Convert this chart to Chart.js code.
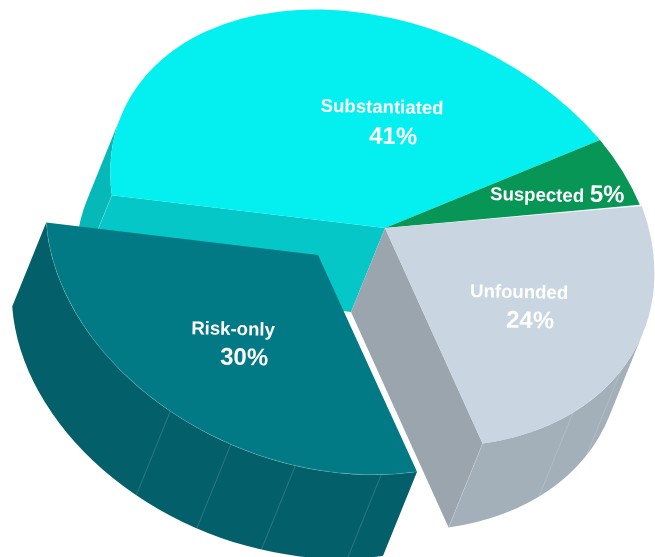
<!DOCTYPE html>
<html>
<head>
<meta charset="utf-8">
<title>Case outcomes</title>
<style>
html,body{margin:0;padding:0;background:#fff}
canvas{display:block}
</style>
</head>
<body>
<canvas id="pie" width="655" height="557"></canvas>
<script src="https://cdn.jsdelivr.net/npm/chart.js@4.4.0/dist/chart.umd.min.js"></script>
<script>
// data
const categories = ['Substantiated', 'Suspected', 'Unfounded', 'Risk-only'];
const shares = [41, 5, 24, 30];

// colours per slice
const topColors = ['#04EFEF', '#079655', '#C9D6E2', '#017A85'];
const rimColors = ['#06B8B8', '#067A45', '#A3B0BA', '#03606A'];
const cutColors = ['#05C7C7', '#067A45', '#9AA5AE', '#03606A'];

// tilt of the pie: where the unit circle lands on screen, in px.
// the original has some perspective so each slice gets its own axes
const center = { x: 385, y: 228 };
const axesU = [{ x: 215, y: -88 }, { x: 215, y: -88 }, { x: 219, y: -88 }, { x: 221, y: -89 }];
const axesV = [{ x: 171, y: 200 }, { x: 163, y: 196 }, { x: 157, y: 200 }, { x: 159, y: 201 }];
const depth = { x: -34, y: 84 };
const explode = { x: -67, y: 27 }; // Risk-only is pulled out
const EXPLODED = 3;

// facet lines on the rim, degrees
const facetLines = { 2: [64.6, 81.4], 3: [112.3, 130.5, 144.4, 158.6] };

// label placement (name x,y then pct x,y)
const labelPos = [
  [382, 113, 393, 144],
  [537, 201, 607, 202],
  [519, 298, 530, 328],
  [233, 335, 244, 365]
];

function tilt(ctx, arc, i, shift) {
  const R = arc.outerRadius;
  const a = axesU[i].x / R, b = axesU[i].y / R, c = axesV[i].x / R, d = axesV[i].y / R;
  const ox = center.x + (shift ? shift.x : 0);
  const oy = center.y + (shift ? shift.y : 0);
  ctx.transform(a, b, c, d, ox - a * arc.x - c * arc.y, oy - b * arc.x - d * arc.y);
}

// the depth vector in pie coordinates
function depthVec(arc, i) {
  const R = arc.outerRadius, U = axesU[i], V = axesV[i];
  const det = U.x * V.y - U.y * V.x;
  return {
    x: R * (V.y * depth.x - V.x * depth.y) / det,
    y: R * (U.x * depth.y - U.y * depth.x) / det
  };
}

// only the part of the rim that faces the viewer, one closed path
function drawRim(ctx, arc, i, color, shift) {
  const e = depthVec(arc, i);
  const mid = Math.atan2(e.y, e.x);
  let a0 = arc.startAngle, a1 = arc.endAngle;
  if (a0 < 0) { a0 += Math.PI * 2; a1 += Math.PI * 2; }
  a0 = Math.max(a0, mid - Math.PI / 2);
  a1 = Math.min(a1, mid + Math.PI / 2);
  if (a1 <= a0) return;
  ctx.save();
  tilt(ctx, arc, i, shift);
  ctx.beginPath();
  ctx.arc(arc.x, arc.y, arc.outerRadius, a0, a1);
  ctx.arc(arc.x + e.x, arc.y + e.y, arc.outerRadius, a1, a0, true);
  ctx.closePath();
  ctx.restore();
  ctx.fillStyle = color;
  ctx.fill();
}

function drawCut(ctx, arc, i, angle, color) {
  const e = depthVec(arc, i);
  const rx = arc.x + Math.cos(angle) * arc.outerRadius;
  const ry = arc.y + Math.sin(angle) * arc.outerRadius;
  ctx.save();
  tilt(ctx, arc, i);
  ctx.beginPath();
  ctx.moveTo(arc.x, arc.y);
  ctx.lineTo(rx, ry);
  ctx.lineTo(rx + e.x, ry + e.y);
  ctx.lineTo(arc.x + e.x, arc.y + e.y);
  ctx.closePath();
  ctx.restore();
  ctx.fillStyle = color;
  ctx.fill();
}

function drawFacets(ctx, arc, i, degs, shift) {
  const e = depthVec(arc, i);
  degs.forEach(function (deg) {
    const t = deg * Math.PI / 180;
    const rx = arc.x + Math.cos(t) * arc.outerRadius;
    const ry = arc.y + Math.sin(t) * arc.outerRadius;
    ctx.save();
    tilt(ctx, arc, i, shift);
    ctx.beginPath();
    ctx.moveTo(rx, ry);
    ctx.lineTo(rx + e.x, ry + e.y);
    ctx.restore();
    ctx.strokeStyle = 'rgba(255,255,255,.22)';
    ctx.lineWidth = 0.7;
    ctx.stroke();
  });
}

function drawTop(ctx, arc, i, shift) {
  ctx.save();
  tilt(ctx, arc, i, shift);
  arc.draw(ctx);
  ctx.restore();
}

// faint light edge round the top of a slice
function drawRimEdge(ctx, arc, i, shift) {
  ctx.save();
  tilt(ctx, arc, i, shift);
  ctx.beginPath();
  ctx.arc(arc.x, arc.y, arc.outerRadius, arc.startAngle, arc.endAngle);
  ctx.restore();
  ctx.strokeStyle = 'rgba(255,255,255,.22)';
  ctx.lineWidth = 0.7;
  ctx.stroke();
}

const pie3d = {
  id: 'pie3d',
  beforeDatasetsDraw(chart) {
    const ctx = chart.ctx;
    const arcs = chart.getDatasetMeta(0).data;
    // back parts first
    drawRim(ctx, arcs[0], 0, rimColors[0]);
    drawCut(ctx, arcs[0], 0, arcs[0].startAngle, cutColors[0]);
    drawFacets(ctx, arcs[0], 0, [arcs[0].startAngle * 180 / Math.PI]);
    drawCut(ctx, arcs[2], 2, arcs[2].endAngle, cutColors[2]);
    drawRim(ctx, arcs[2], 2, rimColors[2]);
    drawFacets(ctx, arcs[2], 2, facetLines[2].concat(arcs[2].endAngle * 180 / Math.PI));
    [0, 1, 2].forEach(function (i) { drawTop(ctx, arcs[i], i); });
    // exploded slice sits in front
    const k = EXPLODED;
    drawRim(ctx, arcs[k], k, rimColors[k], explode);
    drawFacets(ctx, arcs[k], k, facetLines[k], explode);
    drawTop(ctx, arcs[k], k, explode);
    drawRimEdge(ctx, arcs[k], k, explode);
    return false;
  },
  // afterDatasetsDraw does not fire once the draw above is cancelled
  afterDraw(chart) {
    const ctx = chart.ctx;
    ctx.fillStyle = '#fff';
    ctx.textAlign = 'center';
    ctx.textBaseline = 'alphabetic';
    categories.forEach(function (name, i) {
      const p = labelPos[i];
      ctx.font = 'bold 18.6px "Liberation Sans", Arial, sans-serif';
      ctx.save();
      ctx.translate(p[0], p[1]);
      ctx.rotate(0.02);
      ctx.fillText(name, 0, 0);
      ctx.restore();
      ctx.font = 'bold 24px "Liberation Sans", Arial, sans-serif';
      ctx.save();
      ctx.translate(p[2], p[3]);
      ctx.rotate(0.02);
      ctx.fillText(shares[i] + '%', 0, 0);
      ctx.restore();
    });
  }
};

new Chart(document.getElementById('pie'), {
  type: 'pie',
  data: {
    labels: categories,
    datasets: [{ data: shares, backgroundColor: topColors, borderWidth: 0 }]
  },
  options: {
    responsive: false,
    animation: false,
    devicePixelRatio: 1,
    rotation: -57.6, // Suspected starts on the canvas x axis
    plugins: { legend: { display: false }, tooltip: { enabled: false } }
  },
  plugins: [pie3d]
});
</script>
</body>
</html>
